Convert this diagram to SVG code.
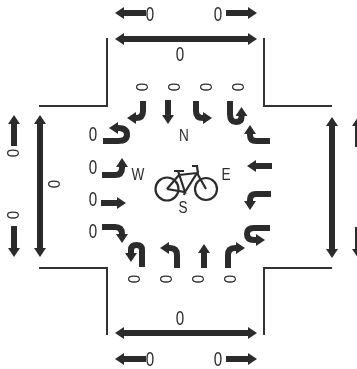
<svg xmlns="http://www.w3.org/2000/svg" width="357" height="369" viewBox="0 0 357 369">
<style>
text{font-family:"Liberation Sans",Arial,sans-serif;fill:#2a2a2a;text-anchor:middle}
.z{font-size:20px}
.s{font-size:16px}
.l{font-size:17px}
.c{fill:none;stroke:#333;stroke-width:2}
.a{fill:none;stroke:#2b2b2b;stroke-width:6;marker-end:url(#h)}
.d{fill:none;stroke:#2b2b2b;stroke-width:6;marker-end:url(#h);marker-start:url(#h)}
.b{fill:none;stroke:#2b2b2b;stroke-width:2.2}
.w{fill:none;stroke:#2b2b2b;stroke-width:2.2}
</style>
<defs>
<marker id="h" markerUnits="userSpaceOnUse" markerWidth="10" markerHeight="14" refX="1" refY="7" orient="auto-start-reverse">
<path d="M0 1L9 7L0 13Z" fill="#2b2b2b"/>
</marker>
</defs>
<g id="curbs">
<path class="c" d="M107 38V106H39"/>
<path class="c" d="M264 38V106H332"/>
<path class="c" d="M107 335V268H39"/>
<path class="c" d="M264 335V268H332"/>
</g>
<g id="connectors">
<path class="a" d="M146 13H123"/>
<path class="a" d="M226 13H249"/>
<path class="d" d="M123 39H249"/>
<path class="d" d="M123 333H249"/>
<path class="a" d="M146 359H123"/>
<path class="a" d="M226 359H249"/>
<path class="d" d="M40 123V249"/>
<path class="a" d="M14 146V123"/>
<path class="a" d="M14 226V249"/>
<path class="d" d="M332 125V250"/>
<path class="a" d="M358 147V125"/>
<path class="a" d="M358 227V250"/>
<path class="a" d="M143 101V111Q143 118 136 118H135"/>
<path class="a" d="M168 100V116"/>
<path class="a" d="M196 101V111Q196 118 203 118H204"/>
<path class="a" d="M230 101V114Q230 122 236 122Q241.500 122 241.500 117V115"/>
<path class="a" d="M270 141H256Q250 141 250 135V133"/>
<path class="a" d="M272 166H255"/>
<path class="a" d="M271 194H256Q250 194 250 200V202"/>
<path class="a" d="M270 228H254Q247 228 247 234Q247 240 254 240H257"/>
<path class="a" d="M142 267V250Q142 245 136.500 245Q131 245 131 250V254"/>
<path class="a" d="M177 268V255Q177 248 170 248H168"/>
<path class="a" d="M204 268V252"/>
<path class="a" d="M228 268V255Q228 248 235 248H237"/>
<path class="a" d="M103 141H118Q127 141 127 134.500Q127 128 118 128H117"/>
<path class="a" d="M102 175H115Q122 175 122 168V166"/>
<path class="a" d="M101 203H118"/>
<path class="a" d="M102 227H115Q122 227 122 234V235"/>
</g>
<g id="bicycle">
<circle class="w" cx="167" cy="189" r="11.500"/>
<circle class="w" cx="206" cy="189" r="11"/>
<path class="b" d="M167 189L185 192L178 171M179 175L197 173L185 192M167 189L179 175M197 173L206 189M174 171H184M192 166H197L198 174M185 192L184 195"/>
</g>
<g id="labels" opacity="0.99">
<text class="z" transform="translate(150 21) scale(.76 1)">0</text>
<text class="z" transform="translate(218 21) scale(.76 1)">0</text>
<text class="z" transform="translate(180 61) scale(.76 1)">0</text>
<text class="z" transform="translate(180 325) scale(.76 1)">0</text>
<text class="z" transform="translate(150 366) scale(.76 1)">0</text>
<text class="z" transform="translate(218 366) scale(.76 1)">0</text>
<text class="z" transform="translate(93 141) scale(.76 1)">0</text>
<text class="z" transform="translate(93 174) scale(.76 1)">0</text>
<text class="z" transform="translate(93 206) scale(.76 1)">0</text>
<text class="z" transform="translate(93 238) scale(.76 1)">0</text>
<text class="s" transform="translate(142 87) rotate(-90) translate(0 5.700) scale(.95 1)">0</text>
<text class="s" transform="translate(174 87) rotate(-90) translate(0 5.700) scale(.95 1)">0</text>
<text class="s" transform="translate(206 87) rotate(-90) translate(0 5.700) scale(.95 1)">0</text>
<text class="s" transform="translate(238 87) rotate(-90) translate(0 5.700) scale(.95 1)">0</text>
<text class="s" transform="translate(134 279) rotate(-90) translate(0 5.700) scale(.95 1)">0</text>
<text class="s" transform="translate(166 279) rotate(-90) translate(0 5.700) scale(.95 1)">0</text>
<text class="s" transform="translate(198 279) rotate(-90) translate(0 5.700) scale(.95 1)">0</text>
<text class="s" transform="translate(230 279) rotate(-90) translate(0 5.700) scale(.95 1)">0</text>
<text class="s" transform="translate(13 153) rotate(-90) translate(0 5.700) scale(.95 1)">0</text>
<text class="s" transform="translate(13 215) rotate(-90) translate(0 5.700) scale(.95 1)">0</text>
<text class="s" transform="translate(54 184) rotate(-90) translate(0 5.700) scale(.95 1)">0</text>
<text class="l" transform="translate(184 141) scale(.8 1)">N</text>
<text class="l" transform="translate(138 180) scale(.8 1)">W</text>
<text class="l" transform="translate(226 180) scale(.8 1)">E</text>
<text class="l" transform="translate(183 213) scale(.8 1)">S</text>
</g>
</svg>
